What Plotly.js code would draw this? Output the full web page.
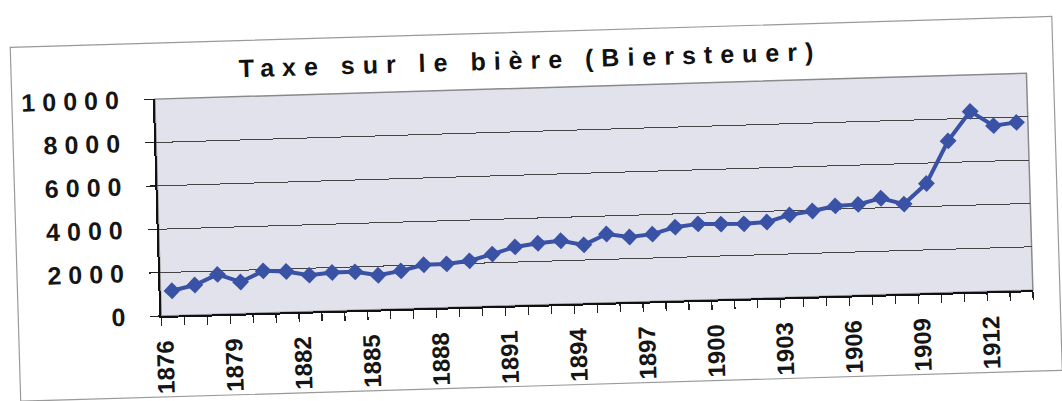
<!DOCTYPE html>
<html>
<head>
<meta charset="utf-8">
<script src="https://cdn.plot.ly/plotly-3.0.1.min.js"></script>
<style>
  html, body { margin: 0; padding: 0; background: #ffffff; overflow: hidden; }
  #chart { width: 1062px; height: 401px; transform: rotate(-1.7deg); transform-origin: 50% 50%; }
  #chart .gtitle { letter-spacing: 8px; }
  #chart .ytick text { letter-spacing: 7px; }
</style>
</head>
<body>
<div id="chart"></div>
<script>
const chartTitle = "Taxe sur le bière (Biersteuer)";
const years = [1876,1877,1878,1879,1880,1881,1882,1883,1884,1885,1886,1887,1888,1889,1890,1891,1892,1893,1894,
               1895,1896,1897,1898,1899,1900,1901,1902,1903,1904,1905,1906,1907,1908,1909,1910,1911,1912,1913];
const tax = [1150,1380,1840,1460,1940,1880,1680,1770,1770,1580,1750,2000,2010,2120,2400,2700,2840,2920,2700,
             3170,3000,3100,3390,3510,3470,3450,3500,3800,3950,4150,4190,4440,4140,5060,6990,8320,7630,7750];
const tickYears = [1876,1879,1882,1885,1888,1891,1894,1897,1900,1903,1906,1909,1912];
const tickLabels = tickYears.map(String);
const yTicks = [0,2000,4000,6000,8000,10000];

const W = 1062, H = 401;
const M = {l: 158, r: 32, t: 88, b: 96};
const pw = W - M.l - M.r, ph = H - M.t - M.b;
const px = v => (v - M.l) / pw;
const py = v => (H - M.b - v) / ph;

const trace = {
  x: years, y: tax, type: 'scatter', mode: 'lines+markers',
  line: {color: '#3a52a6', width: 4},
  marker: {symbol: 'diamond', size: 13, color: '#3a52a6', line: {width: 0}},
  hoverinfo: 'skip', showlegend: false
};

const layout = {
  width: W, height: H,
  margin: M,
  paper_bgcolor: 'rgba(0,0,0,0)',
  plot_bgcolor: '#e2e2ec',
  title: {
    text: chartTitle,
    font: {family: 'Liberation Sans, Arial, sans-serif', size: 25, color: '#111', weight: 'bold'},
    xref: 'container', yref: 'container', x: 0.503, xanchor: 'center', y: 1 - 60/H, yanchor: 'middle'
  },
  xaxis: {
    range: [years[0] - 0.5, years[years.length - 1] + 0.5],
    tickmode: 'array', tickvals: tickYears, ticktext: tickLabels,
    tickangle: -90, ticks: '', ticklen: 0,
    ticklabelstandoff: 13, ticklabelshift: -8,
    tickfont: {family: 'Liberation Sans, Arial, sans-serif', size: 24, color: '#151515', weight: 'bold'},
    showgrid: false, zeroline: false,
    showline: true, linecolor: '#111', linewidth: 2,
    minor: {tickmode: 'linear', tick0: years[0] - 0.5, dtick: 1, ticks: 'outside', ticklen: 8, tickcolor: '#222', tickwidth: 1.2, showgrid: false},
    fixedrange: true
  },
  yaxis: {
    range: [0, 10000], tickmode: 'array', tickvals: yTicks, ticktext: yTicks.map(String),
    ticks: 'outside', ticklen: 9, tickcolor: '#222', tickwidth: 1.2,
    ticklabelstandoff: 13,
    tickfont: {family: 'Liberation Sans, Arial, sans-serif', size: 25, color: '#151515', weight: 'bold'},
    showgrid: true, gridcolor: '#444', gridwidth: 1,
    zeroline: false, showline: true, linecolor: '#111', linewidth: 2,
    fixedrange: true
  },
  shapes: [
    {type: 'rect', xref: 'paper', yref: 'paper', x0: 0, x1: 1, y0: 0, y1: 1,
     line: {color: '#8a8a8a', width: 1.5}, layer: 'below'},
    {type: 'rect', xref: 'paper', yref: 'paper', x0: px(15), x1: px(1057), y0: py(386), y1: py(32),
     line: {color: '#9a9a9a', width: 1.2}, layer: 'below'}
  ]
};

Plotly.newPlot('chart', [trace], layout, {displayModeBar: false, staticPlot: true});
</script>
</body>
</html>
